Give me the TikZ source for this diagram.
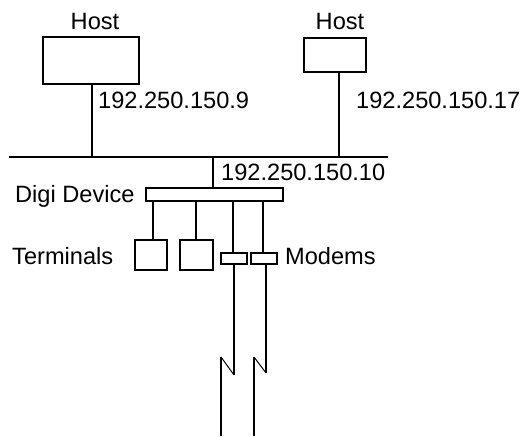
\documentclass[tikz,border=0pt]{standalone}
\usepackage{fontspec}
\setmainfont{Liberation Sans}
\begin{document}
\begin{tikzpicture}[x=1pt,y=-1pt,
  every node/.style={font=\fontsize{23.6}{28}\selectfont},
  lbl/.style={anchor=base west,inner sep=0pt},
  clbl/.style={anchor=base,inner sep=0pt},
  boxn/.style={draw,line width=1.6pt,inner sep=0pt,minimum width=#1},
  wire/.style={line width=1.6pt},
  thin wire/.style={line width=1pt}]
\useasboundingbox (0,0) rectangle (521,436);
% hosts
\node[boxn=96pt,minimum height=47pt] (host1) at (91,60.5) {};
\node[boxn=62pt,minimum height=34pt] (host2) at (335,55) {};
\node[clbl] (h1lbl) at (95,30) {Host};
\node[clbl] (h2lbl) at (340,30) {Host};
\node[lbl] (ip9) at (98,108) {192.250.150.9};
\node[lbl] (ip17) at (356,108) {192.250.150.17};
% bus
\coordinate (busL) at (9,157);
\coordinate (busR) at (388,157);
\draw[wire] (busL) -- (busR);
\draw[wire] (host1.south -| 92,0) -- (busL -| 92,0);
\draw[wire] (host2.south -| 339,0) -- (busL -| 339,0);
% digi device
\node[boxn=137pt,minimum height=13pt] (digi) at (214.5,194.5) {};
\draw[wire] (busL -| 213,0) -- (digi.north -| 213,0);
\node[lbl] (ip10) at (221,180) {192.250.150.10};
\node[lbl] (digilbl) at (15,202) {Digi Device};
% terminals
\node[boxn=32pt,minimum height=30pt] (t1) at (151,255) {};
\node[boxn=33pt,minimum height=30pt] (t2) at (196.5,255) {};
\draw[wire] (digi.south -| 153,0) -- (t1.north -| 153,0);
\draw[wire] (digi.south -| 196,0) -- (t2.north -| 196,0);
\node[lbl] (termlbl) at (12,264) {Terminals};
% modems
\node[boxn=26pt,minimum height=11pt] (m1) at (234,258.5) {};
\node[boxn=26pt,minimum height=11pt] (m2) at (264,258.5) {};
\draw[wire] (digi.south -| 233,0) -- (m1.north -| 233,0);
\draw[wire] (digi.south -| 263,0) -- (m2.north -| 263,0);
\node[lbl] (modlbl) at (285,264) {Modems};
% phone lines
\coordinate (e1) at (221,436);
\coordinate (e2) at (254,436);
\draw[wire] (m1.south -| 234,0) -- (234,375);
\draw[thin wire] (234,375) -- (221,357);
\draw[wire] (221,357) -- (e1);
\draw[wire] (m2.south -| 266,0) -- (266,373);
\draw[thin wire] (266,373) -- (254,357);
\draw[wire] (254,357) -- (e2);
\end{tikzpicture}
\end{document}
